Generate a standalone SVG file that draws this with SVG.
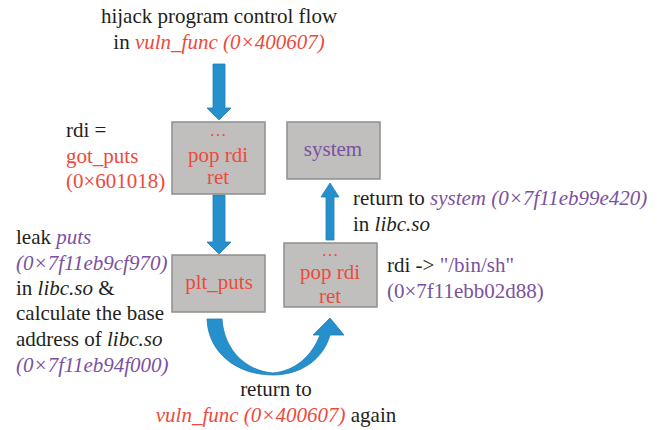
<svg xmlns="http://www.w3.org/2000/svg" width="659" height="430" viewBox="0 0 659 430">
  <style>
    text { font-family: "Liberation Serif", "DejaVu Serif", serif; font-size: 21px; fill: #231f20; }
    .c { text-anchor: middle; }
    .red { fill: #ee4a3b; }
    .pur { fill: #7a51a1; }
    .it { font-style: italic; }
    .dots { font-size: 17px; }
    .box { fill: #c0bfbe; stroke: #8e8e8e; stroke-width: 1.5; }
    .arrow { fill: #2590cc; stroke: #1f7db5; stroke-width: 0.8; }
  </style>
  <rect width="659" height="430" fill="#ffffff"/>

  <!-- connectors -->
  <g id="connectors">
    <!-- entry arrow into the first gadget -->
    <path class="arrow" d="M213 64 H225 V108 H231 L219 120 L207 108 H213 Z"/>
    <!-- first gadget to plt_puts -->
    <path class="arrow" d="M213 195 H225 V242 H231 L219 254 L207 242 H213 Z"/>
    <!-- second gadget up to system -->
    <path class="arrow" d="M326 240 H334 V197 H339 L330 183 L321 197 H326 Z"/>
    <!-- plt_puts back round to the second gadget -->
    <path class="arrow" d="M207 319 C208 352 236 375 273 375 C300 375 323 360 330 335 L344 335 L330 318 L313 335 L320 335 C312 356 295 371 273 373 C246 371 224 350 222 319 Z"/>
  </g>

  <!-- caption above the chain -->
  <g id="entry">
    <text class="c" x="219" y="23">hijack program control flow</text>
    <text class="c" x="219" y="49">in <tspan class="red it">vuln_func (0×400607)</tspan></text>
  </g>

  <g id="gadget1">
    <rect class="box" x="172" y="122" width="93" height="72"/>
    <text class="c red dots" x="218" y="136">…</text>
    <text class="c red" x="218" y="162">pop rdi</text>
    <text class="c red" x="218" y="184">ret</text>
  </g>
  <g id="gadget1-note">
    <text x="66" y="137">rdi =</text>
    <text class="red" x="66" y="163">got_puts</text>
    <text class="red" x="66" y="188">(0×601018)</text>
  </g>

  <g id="system">
    <rect class="box" x="287" y="122" width="93" height="57"/>
    <text class="c pur" x="333" y="156">system</text>
  </g>

  <g id="plt_puts">
    <rect class="box" x="172" y="255" width="93" height="57"/>
    <text class="c red" x="219" y="289">plt_puts</text>
  </g>
  <g id="plt_puts-note">
    <text x="16" y="244">leak <tspan class="pur it">puts</tspan></text>
    <text class="pur it" x="16" y="270">(0×7f11eb9cf970)</text>
    <text x="16" y="295">in <tspan class="it">libc.so</tspan> &amp;</text>
    <text x="16" y="320">calculate the base</text>
    <text x="16" y="346">address of <tspan class="it">libc.so</tspan></text>
    <text class="pur it" x="16" y="372">(0×7f11eb94f000)</text>
  </g>

  <g id="gadget2">
    <rect class="box" x="284" y="243" width="93" height="64"/>
    <text class="c red dots" x="330" y="256">…</text>
    <text class="c red" x="330" y="279">pop rdi</text>
    <text class="c red" x="330" y="303">ret</text>
  </g>
  <g id="gadget2-note">
    <text x="387" y="272">rdi -&gt; <tspan class="pur">"/bin/sh"</tspan></text>
    <text class="pur" x="387" y="298">(0×7f11ebb02d88)</text>
  </g>

  <g id="system-note">
    <text x="353" y="205">return to <tspan class="pur it">system (0×7f11eb99e420)</tspan></text>
    <text x="353" y="231">in <tspan class="it">libc.so</tspan></text>
  </g>

  <g id="loop-note">
    <text class="c" x="276" y="396">return to</text>
    <text class="c" x="276" y="422"><tspan class="red it">vuln_func (0×400607)</tspan> again</text>
  </g>
</svg>
